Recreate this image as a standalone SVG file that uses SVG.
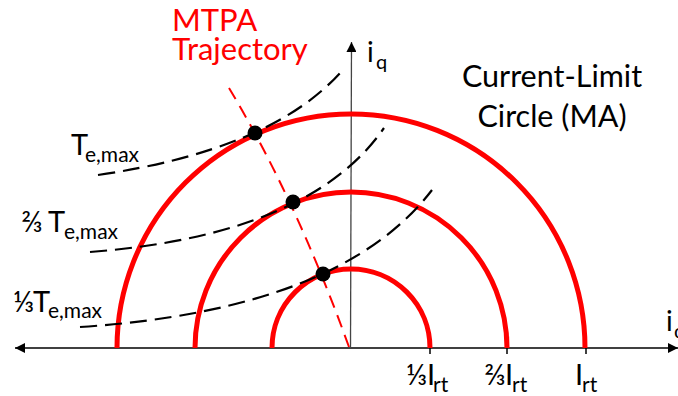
<svg xmlns="http://www.w3.org/2000/svg" width="678" height="396" viewBox="0 0 678 396">
<defs>
<style>
.t{font-family:Lato,"Open Sans","DejaVu Sans",sans-serif;fill:#000}
.red{fill:#ff0000}
.circ{fill:none;stroke:#ff0000;stroke-width:5}
.tq{fill:none;stroke:#000;stroke-width:2.2;stroke-dasharray:17 8}
.mtpa{fill:none;stroke:#ff0000;stroke-width:2;stroke-dasharray:13 8}
.ax{stroke:#000;stroke-width:1.5;fill:none}
</style>
<marker id="ah" viewBox="0 0 10 10" refX="10" refY="5" markerWidth="10" markerHeight="10" markerUnits="userSpaceOnUse" orient="auto-start-reverse">
<path d="M0,0 L10,5 L0,10 z" fill="#000"/>
</marker>
</defs>
<rect width="678" height="396" fill="#fff"/>

<g id="axes">
<line class="ax" x1="15" y1="348" x2="678" y2="348" marker-start="url(#ah)" marker-end="url(#ah)"/>
<line x1="350.5" y1="348" x2="351.5" y2="42" stroke="#444" stroke-width="1.3" marker-end="url(#ah)"/>
<line class="ax" x1="430" y1="348" x2="430" y2="354"/>
<line class="ax" x1="507" y1="348" x2="507" y2="354"/>
<line class="ax" x1="586" y1="348" x2="586" y2="354"/>
</g>

<g id="circles">
<path class="circ" d="M117,348 A234,234 0 0 1 585,348"/>
<path class="circ" d="M195,348 A156,156 0 0 1 507,348"/>
<path class="circ" d="M272,348 A79,79 0 0 1 430,348"/>
</g>

<g id="connectors">
<path class="tq" d="M98,175 Q270,150 340,73"/>
<path class="tq" d="M90,252 Q310,235 384,128"/>
<path class="tq" d="M80,327 Q340,310 432,190"/>
<path class="mtpa" d="M229,88 Q296,199.5 349,347"/>
</g>

<g id="points">
<circle cx="255" cy="133" r="7.5"/>
<circle cx="293" cy="202" r="7.5"/>
<circle cx="323" cy="274" r="7.5"/>
</g>

<g id="labels">
<text class="t red" x="172" y="31" font-size="31">MTPA</text>
<text class="t red" x="172" y="60" font-size="31">Trajectory</text>
<text class="t" x="552" y="87" font-size="30.5" text-anchor="middle">Current-Limit</text>
<text class="t" x="552" y="127" font-size="30.5" text-anchor="middle">Circle (MA)</text>
<text class="t" font-size="28"><tspan x="367" y="62">i</tspan><tspan x="376" y="69" font-size="20">q</tspan></text>
<text class="t" font-size="28"><tspan x="666" y="331">i</tspan><tspan x="674" y="338" font-size="20">d</tspan></text>
<text class="t" font-size="29"><tspan x="71" y="155">T</tspan><tspan x="85" y="162" font-size="21">e,max</tspan></text>
<text class="t" font-size="29"><tspan x="21" y="232">⅔</tspan><tspan x="48" y="232">T</tspan><tspan x="64" y="239" font-size="21">e,max</tspan></text>
<text class="t" font-size="29"><tspan x="13" y="312">⅓</tspan><tspan x="33" y="312">T</tspan><tspan x="48" y="318" font-size="21">e,max</tspan></text>
<text class="t" font-size="29"><tspan x="406" y="385">⅓</tspan><tspan x="427" y="385">I</tspan><tspan x="433" y="392" font-size="21">rt</tspan></text>
<text class="t" font-size="29"><tspan x="484" y="385">⅔</tspan><tspan x="505" y="385">I</tspan><tspan x="512" y="392" font-size="21">rt</tspan></text>
<text class="t" font-size="29"><tspan x="575" y="385">I</tspan><tspan x="582" y="392" font-size="21">rt</tspan></text>
</g>
</svg>
